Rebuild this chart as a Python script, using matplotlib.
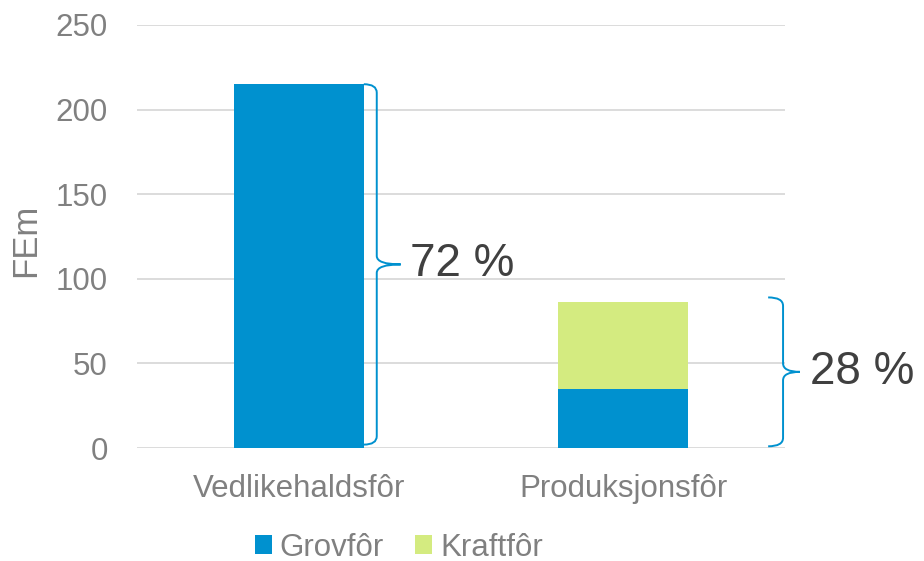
import numpy as np
import matplotlib
import matplotlib.pyplot as plt
from matplotlib.path import Path
from matplotlib.patches import PathPatch

matplotlib.use('Agg')

# data
categories = ['Vedlikehaldsfôr', 'Produksjonsfôr']
grovfor = [215, 35]
kraftfor = [0, 51]
pct_labels = ['72 %', '28 %']

BLUE = '#0091CF'
GREEN = '#D4EB80'
GREY = '#808080'
DARK = '#404040'

plt.rcParams['font.family'] = ['Liberation Sans', 'DejaVu Sans']

fig = plt.figure(figsize=(9.24, 5.61), dpi=100)
ax = fig.add_axes([137 / 924, 1 - 448 / 561, 648 / 924, 423 / 561])

x = np.arange(len(categories))
width = 0.4
ax.bar(x, grovfor, width, color=BLUE, label='Grovfôr', zorder=2)
ax.bar(x, kraftfor, width, bottom=grovfor, color=GREEN, label='Kraftfôr', zorder=2)

ax.set_xlim(-0.5, 1.5)
ax.set_ylim(0, 250)
ax.set_yticks(range(0, 251, 50))
ax.yaxis.grid(True, color='#D9D9D9', linewidth=1.3)
ax.set_axisbelow(True)
for s in ax.spines.values():
    s.set_visible(False)
ax.tick_params(axis='both', length=0, labelsize=22.5, labelcolor=GREY)
ax.tick_params(axis='y', pad=21)
ax.tick_params(axis='x', pad=19)
ax.set_xticks(x)
ax.set_xticklabels(categories)
ax.set_ylabel('FEm', fontsize=25, color=GREY)
ax.yaxis.set_label_coords(-0.147, 0.49)


def brace(x0, bottom, top, w, tip, r, label):
    mid = (top + bottom) / 2
    verts = [(x0 - w, top), (x0, top), (x0, top - r),
             (x0, mid + r), (x0, mid), (x0 + tip, mid),
             (x0, mid), (x0, mid - r),
             (x0, bottom + r), (x0, bottom), (x0 - w, bottom)]
    codes = [Path.MOVETO, Path.CURVE3, Path.CURVE3,
             Path.LINETO, Path.CURVE3, Path.CURVE3,
             Path.CURVE3, Path.CURVE3,
             Path.LINETO, Path.CURVE3, Path.CURVE3]
    ax.add_patch(PathPatch(Path(verts, codes), fill=False, edgecolor=BLUE,
                           linewidth=1.4, clip_on=False, zorder=3))
    ax.text(x0 + tip + 0.03, mid, label, fontsize=33, color=DARK,
            va='center', ha='left', clip_on=False)


totals = [g + k for g, k in zip(grovfor, kraftfor)]
brace(x[0] + width / 2 + 0.04, 2, totals[0], 0.04, 0.074, 5, pct_labels[0])
brace(x[1] + 0.494, 1, totals[1] + 3, 0.046, 0.052, 5, pct_labels[1])

leg = ax.legend(loc='center', bbox_to_anchor=(0.404, -0.236), ncol=2,
                frameon=False, fontsize=22.5, handlelength=0.55, handleheight=0.55,
                handletextpad=0.25, columnspacing=1.0, borderaxespad=0)
for t in leg.get_texts():
    t.set_color(GREY)

fig.savefig('out.png', dpi=100)
